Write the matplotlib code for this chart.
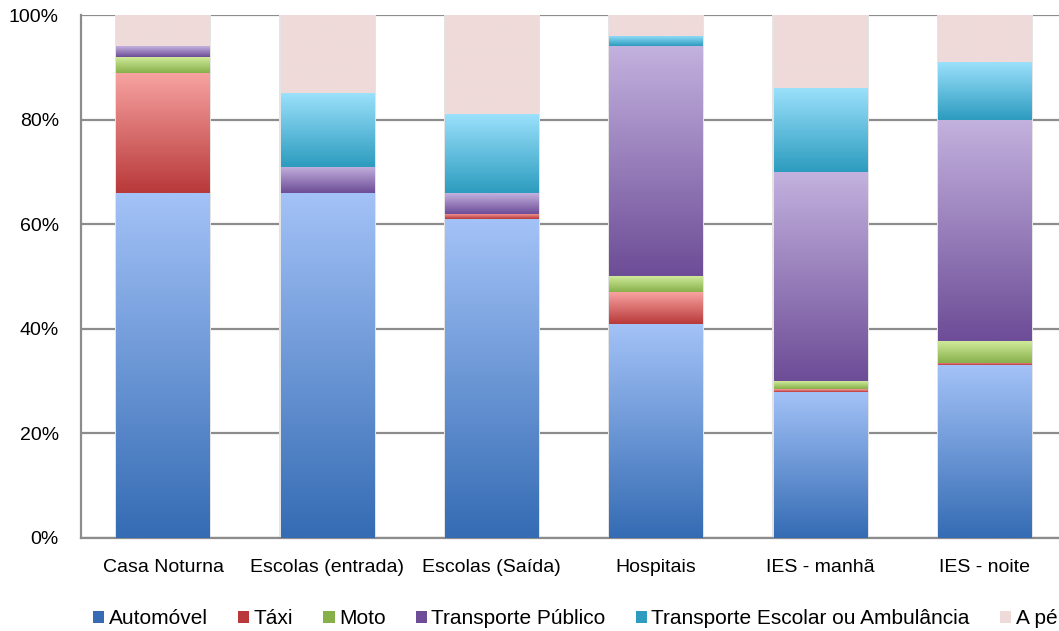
import matplotlib.pyplot as plt
import numpy as np
from matplotlib.colors import to_rgb
from matplotlib.patches import Rectangle

plt.rcParams['font.family'] = ['Liberation Sans', 'DejaVu Sans']

categories = ['Casa Noturna', 'Escolas (entrada)', 'Escolas (Saída)', 'Hospitais',
              'IES - manhã', 'IES - noite']
series = ['Automóvel', 'Táxi', 'Moto', 'Transporte Público',
          'Transporte Escolar ou Ambulância', 'A pé']

automovel = [66, 66, 61, 41, 28, 33]
taxi = [23, 0, 1, 6, 0.5, 0.5]
moto = [3, 0, 0, 3, 1.5, 4.2]
publico = [2, 5, 4, 44, 40, 42.3]
escolar = [0, 14, 15, 2, 16, 11]
a_pe = [6, 15, 19, 4, 14, 9]
values = [automovel, taxi, moto, publico, escolar, a_pe]

# (top colour, bottom colour) of each gradient
colors = [('#a3c2f7', '#356cb4'),
          ('#f7a3a1', '#b9393a'),
          ('#cfea9a', '#88b04a'),
          ('#c3b1de', '#6d4d97'),
          ('#9ae0fb', '#2d9cbf'),
          ('#efdada', '#efdada')]

fig = plt.figure(figsize=(10.59, 6.31), dpi=100)
ax = fig.add_axes([81 / 1059, 1 - 538 / 631, 986 / 1059, 523 / 631])

x = np.arange(len(categories))

# faint shadow behind the stacks
total = np.sum(np.array(values, dtype=float), axis=0)
ax.bar(x, total, 0.585, color='#e4e4e4', edgecolor='none', zorder=2)

bottom = np.zeros(len(categories))
for vals, (c_top, c_bot), name in zip(values, colors, series):
    vals = np.array(vals, dtype=float)
    bars = ax.bar(x, vals, 0.57, bottom=bottom, color='none', edgecolor='none', zorder=3)
    t = np.linspace(0, 1, 64)[:, None]
    grad = (1 - t) * np.array(to_rgb(c_top)) + t * np.array(to_rgb(c_bot))
    grad = grad[:, None, :]
    for p in bars.patches:
        if p.get_height() <= 0:
            continue
        x0, y0 = p.get_x(), p.get_y()
        ax.imshow(grad, extent=[x0, x0 + p.get_width(), y0, y0 + p.get_height()],
                  aspect='auto', interpolation='bilinear', zorder=3)
    bottom += vals

ax.set_xlim(-0.5, len(categories) - 0.5)
ax.set_ylim(0, 100)
ax.set_yticks(np.arange(0, 101, 20))
ax.set_yticklabels([f'{v}%' for v in range(0, 101, 20)])
ax.set_xticks(x)
ax.set_xticklabels(categories)
ax.tick_params(axis='both', length=0, labelsize=14, colors='#000000')
ax.tick_params(axis='x', pad=15)
ax.tick_params(axis='y', pad=16)
ax.grid(axis='y', color='#8c8c8c', lw=1.6, zorder=1)
ax.set_axisbelow(True)
for s in ['top', 'right']:
    ax.spines[s].set_visible(False)
for s in ['left', 'bottom']:
    ax.spines[s].set_color('#8c8c8c')
    ax.spines[s].set_linewidth(1.6)

handles = [Rectangle((0, 0), 1, 1, facecolor=c_bot if i < 5 else c_top)
           for i, (c_top, c_bot) in enumerate(colors)]
fig.legend(handles, series, loc='center left', bbox_to_anchor=(93 / 1059, 1 - 619 / 631),
           ncol=6, frameon=False, fontsize=15, handlelength=0.55, handleheight=0.55,
           handletextpad=0.2, columnspacing=1.45, borderpad=0, borderaxespad=0)

fig.savefig('out.png', dpi=100)
